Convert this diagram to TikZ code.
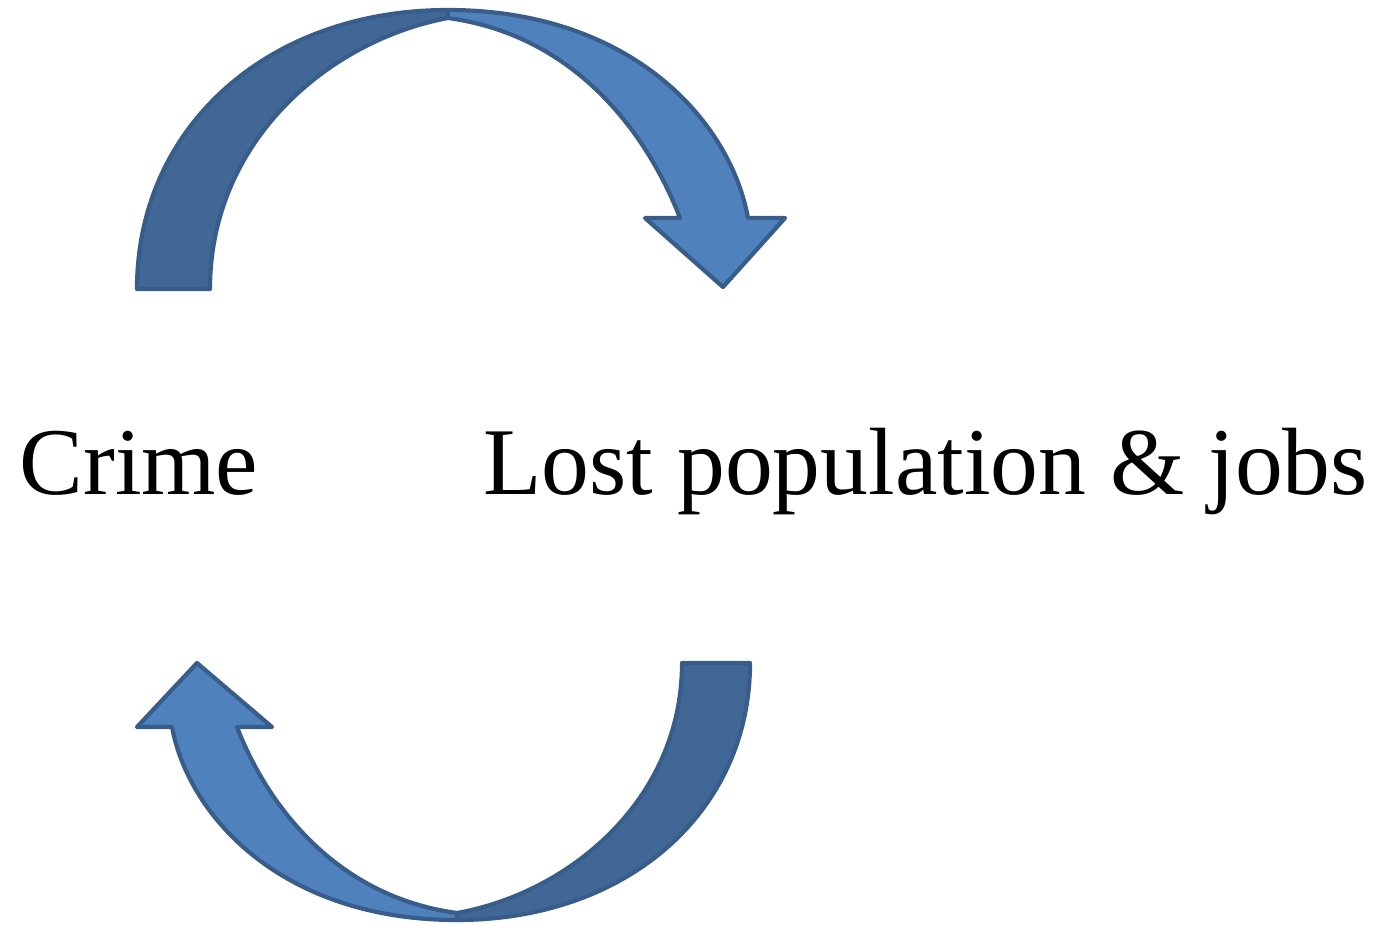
\documentclass[tikz,border=0pt]{standalone}
\usepackage{fontspec}
\setmainfont{Liberation Serif}
\definecolor{front}{HTML}{4F81BD}
\definecolor{back}{HTML}{406796}
\definecolor{rim}{HTML}{385D8A}
\begin{document}
\begin{tikzpicture}[x=0.5pt,y=-0.5pt,
	band/.style={draw=rim,line width=2.1pt,line join=round},
	every node/.style={inner sep=0,anchor=base west,font=\fontsize{47.8}{57}\selectfont}]
	\useasboundingbox (0,0) rectangle (1381,926);
	% upper arrow
	\draw[band,fill=back] (137,289) .. controls (137,127) and (268,10) .. (448,10)
		-- (448,18) .. controls (330,40) and (210,140) .. (210,289) -- cycle;
	\draw[band,fill=front] (448,10) .. controls (630,10) and (730,120) .. (748,218)
		-- (785,218) -- (723,287) -- (645,218) -- (680,218)
		.. controls (650,140) and (580,36) .. (448,18) -- cycle;
	% lower arrow
	\draw[band,fill=back] (750,663) .. controls (750,812) and (627,920) .. (457,920)
		-- (457,913) .. controls (569,893) and (682,800) .. (682,663) -- cycle;
	\draw[band,fill=front] (457,920) .. controls (284,920) and (189,818) .. (172,727)
		-- (137,727) -- (197,663) -- (272,727) -- (237,727)
		.. controls (265,800) and (332,896) .. (457,913) -- cycle;
	\node (crime) at (19,494){Crime};
	\node (lost) at (483,494){Lost population \& jobs};
\end{tikzpicture}
\end{document}
